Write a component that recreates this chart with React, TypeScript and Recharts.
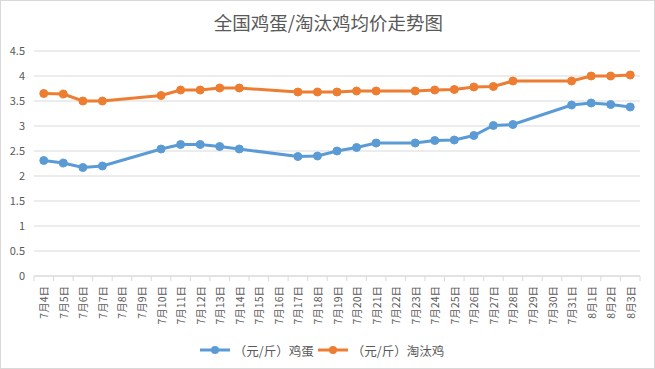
import React from "react";
import { LineChart, Line, XAxis, YAxis, CartesianGrid, Legend } from "recharts";

const categories = [
  "7月4日", "7月5日", "7月6日", "7月7日", "7月8日", "7月9日", "7月10日", "7月11日",
  "7月12日", "7月13日", "7月14日", "7月15日", "7月16日", "7月17日", "7月18日", "7月19日",
  "7月20日", "7月21日", "7月22日", "7月23日", "7月24日", "7月25日", "7月26日", "7月27日",
  "7月28日", "7月29日", "7月30日", "7月31日", "8月1日", "8月2日", "8月3日",
];

const eggPrices: (number | null)[] = [
  2.31, 2.26, 2.17, 2.2, null, null, 2.54, 2.63, 2.63, 2.59, 2.54, null, null, 2.39, 2.4, 2.5,
  2.57, 2.66, null, 2.66, 2.71, 2.72, 2.81, 3.01, 3.03, null, null, 3.42, 3.46, 3.43, 3.38,
];

const henPrices: (number | null)[] = [
  3.65, 3.64, 3.5, 3.5, null, null, 3.61, 3.72, 3.72, 3.76, 3.76, null, null, 3.68, 3.68, 3.68,
  3.7, 3.7, null, 3.7, 3.72, 3.73, 3.78, 3.79, 3.9, null, null, 3.9, 4.0, 4.0, 4.02,
];

const yTicks = [0, 0.5, 1, 1.5, 2, 2.5, 3, 3.5, 4, 4.5];
const seriesNames = ["（元/斤）鸡蛋", "（元/斤）淘汰鸡"];
const colors = ["#5B9BD5", "#ED7D31"];

const data = categories.map((c, i) => ({
  x: i + 0.5,
  date: c,
  egg: eggPrices[i],
  hen: henPrices[i],
}));

const xTicks = Array.from({ length: categories.length + 1 }, (_, i) => i);

const W = 655;
const H = 369;
const M = { top: 51, right: 15, left: 0, bottom: 8 };
const Y_W = 34;
const BAND = (W - M.left - M.right - Y_W) / categories.length;
const FONT = '"Noto Sans CJK SC", "Noto Sans", sans-serif';

const XTick = (props: any) => {
  const { x, y, payload } = props;
  const idx = payload.value;
  if (idx >= categories.length) return null;
  const cx = x + BAND / 2;
  const cy = y + 2;
  return (
    <text
      x={cx}
      y={cy}
      transform={`rotate(-90, ${cx}, ${cy})`}
      textAnchor="end"
      dominantBaseline="central"
      fontSize={10.5}
      fill="#595959"
      fontFamily={FONT}
    >
      {categories[idx]}
    </text>
  );
};

const LegendContent = () => (
  <div
    style={{
      display: "flex",
      justifyContent: "center",
      alignItems: "center",
      fontFamily: FONT,
      fontSize: 12.5,
      color: "#595959",
      height: 22,
      paddingLeft: 4,
    }}
  >
    {seriesNames.map((n, i) => (
      <div key={n} style={{ display: "flex", alignItems: "center", marginRight: i === 0 ? 4 : 0 }}>
        <svg width={30} height={12} style={{ marginRight: 4 }}>
          <line x1={0} y1={6} x2={30} y2={6} stroke={colors[i]} strokeWidth={3} />
          <circle cx={15} cy={6} r={4} fill={colors[i]} />
        </svg>
        <span>{n}</span>
      </div>
    ))}
  </div>
);

export default function App() {
  return (
    <div
      style={{
        position: "absolute",
        left: 0,
        top: 0,
        width: W,
        height: H,
        boxSizing: "border-box",
        border: "1px solid #d9d9d9",
        background: "#fff",
      }}
    >
      <div
        style={{
          position: "absolute",
          left: 0,
          top: 8,
          width: W,
          textAlign: "center",
          fontFamily: FONT,
          fontSize: 18.5,
          color: "#595959",
          lineHeight: "26px",
        }}
      >
        全国鸡蛋/淘汰鸡均价走势图
      </div>
      <div style={{ position: "absolute", left: -1, top: -1 }}>
        <LineChart width={W} height={H} data={data} margin={M}>
          <CartesianGrid vertical={false} stroke="#d9d9d9" />
          <XAxis
            dataKey="x"
            type="number"
            domain={[0, categories.length]}
            ticks={xTicks}
            interval={0}
            height={63}
            tick={<XTick />}
            tickSize={5}
            tickMargin={3}
            stroke="#d9d9d9"
            tickLine={{ stroke: "#d9d9d9" }}
            axisLine={{ stroke: "#d9d9d9" }}
          />
          <YAxis
            domain={[0, 4.5]}
            ticks={yTicks}
            width={Y_W}
            axisLine={false}
            tickLine={false}
            tickSize={0}
            tickMargin={9}
            tick={{ fontSize: 11, fill: "#595959", fontFamily: FONT }}
          />
          <Legend verticalAlign="bottom" content={<LegendContent />} />
          <Line
            type="linear"
            dataKey="egg"
            name={seriesNames[0]}
            stroke={colors[0]}
            strokeWidth={3}
            dot={{ r: 4, fill: colors[0], stroke: colors[0], strokeWidth: 1 }}
            connectNulls
            isAnimationActive={false}
          />
          <Line
            type="linear"
            dataKey="hen"
            name={seriesNames[1]}
            stroke={colors[1]}
            strokeWidth={3}
            dot={{ r: 4, fill: colors[1], stroke: colors[1], strokeWidth: 1 }}
            connectNulls
            isAnimationActive={false}
          />
        </LineChart>
      </div>
    </div>
  );
}
